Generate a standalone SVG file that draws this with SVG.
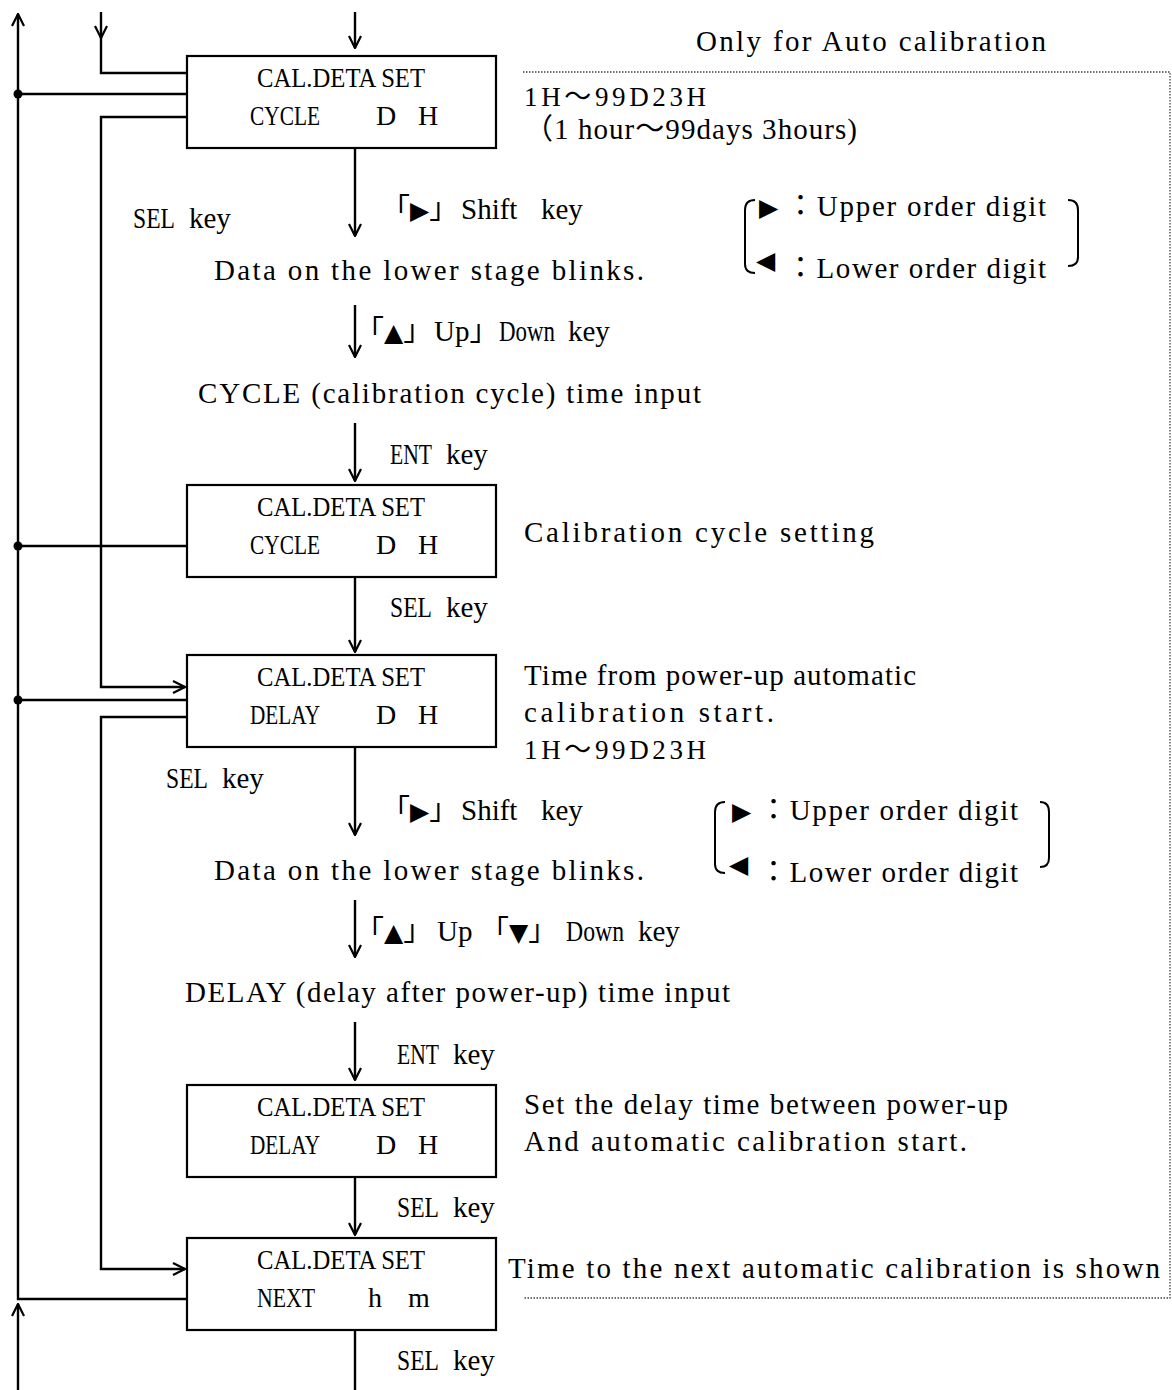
<svg xmlns="http://www.w3.org/2000/svg" width="1172" height="1390" viewBox="0 0 1172 1390">
<style>
.t{font-family:"Liberation Serif","Noto Sans CJK JP",serif;font-size:28px;fill:#000}
.l{font-family:"Liberation Serif","Noto Sans CJK JP",serif;font-size:29px;fill:#000}
.s{font-family:"Liberation Serif","Noto Sans CJK JP",serif;font-size:27px;fill:#000}
.tri{font-family:"DejaVu Sans","Noto Sans CJK JP",sans-serif;font-size:25px;fill:#000}
.box{fill:#fff;stroke:#000;stroke-width:2.2}
.ln{fill:none;stroke:#000;stroke-width:2.4}
.dot{fill:none;stroke:#444;stroke-width:1.3;stroke-dasharray:1.5 1.5}
.br{fill:none;stroke:#000;stroke-width:2}
</style>
<defs>
<marker id="arr" viewBox="0 0 14 14" refX="13" refY="7" markerWidth="14" markerHeight="14" orient="auto" markerUnits="userSpaceOnUse">
<path d="M1,1 L13,7 L1,13" fill="none" stroke="#000" stroke-width="2.2"/>
</marker>
</defs>
<rect width="1172" height="1390" fill="#fff"/>

<g id="connectors">
<path class="ln" d="M187,1299 H18 V14" marker-end="url(#arr)"/>
<path class="ln" d="M18,1390 V1304" marker-end="url(#arr)"/>
<path class="ln" d="M18,94 H187 M18,546 H187 M18,700 H187"/>
<circle cx="18" cy="94" r="4.5"/>
<circle cx="18" cy="546" r="4.5"/>
<circle cx="18" cy="700" r="4.5"/>
<path class="ln" d="M101,12 V38" marker-end="url(#arr)"/>
<path class="ln" d="M101,37 V73 H187"/>
<path class="ln" d="M187,117 H101 V687 H185" marker-end="url(#arr)"/>
<path class="ln" d="M187,717 H101 V1269 H185" marker-end="url(#arr)"/>
<path class="ln" d="M355,12 V48" marker-end="url(#arr)"/>
<path class="ln" d="M355,148 V236" marker-end="url(#arr)"/>
<path class="ln" d="M355,305 V357" marker-end="url(#arr)"/>
<path class="ln" d="M355,423 V481" marker-end="url(#arr)"/>
<path class="ln" d="M355,577 V652" marker-end="url(#arr)"/>
<path class="ln" d="M355,747 V835" marker-end="url(#arr)"/>
<path class="ln" d="M355,900 V957" marker-end="url(#arr)"/>
<path class="ln" d="M355,1022 V1080" marker-end="url(#arr)"/>
<path class="ln" d="M355,1177 V1235" marker-end="url(#arr)"/>
<path class="ln" d="M355,1330 V1390"/>
<path class="dot" d="M523,72 H1170 V1298 H523"/>
</g>

<g id="box1">
<rect class="box" x="187" y="56" width="309" height="92"/>
<text class="t" x="257" y="87" textLength="168" lengthAdjust="spacingAndGlyphs">CAL.DETA SET</text>
<text class="t" x="250" y="125" textLength="70" lengthAdjust="spacingAndGlyphs">CYCLE</text>
<text class="t" x="376" y="125">D</text>
<text class="t" x="418" y="125">H</text>
</g>
<g id="box2">
<rect class="box" x="187" y="485" width="309" height="92"/>
<text class="t" x="257" y="516" textLength="168" lengthAdjust="spacingAndGlyphs">CAL.DETA SET</text>
<text class="t" x="250" y="554" textLength="70" lengthAdjust="spacingAndGlyphs">CYCLE</text>
<text class="t" x="376" y="554">D</text>
<text class="t" x="418" y="554">H</text>
</g>
<g id="box3">
<rect class="box" x="187" y="655" width="309" height="92"/>
<text class="t" x="257" y="686" textLength="168" lengthAdjust="spacingAndGlyphs">CAL.DETA SET</text>
<text class="t" x="250" y="724" textLength="70" lengthAdjust="spacingAndGlyphs">DELAY</text>
<text class="t" x="376" y="724">D</text>
<text class="t" x="418" y="724">H</text>
</g>
<g id="box4">
<rect class="box" x="187" y="1085" width="309" height="92"/>
<text class="t" x="257" y="1116" textLength="168" lengthAdjust="spacingAndGlyphs">CAL.DETA SET</text>
<text class="t" x="250" y="1154" textLength="70" lengthAdjust="spacingAndGlyphs">DELAY</text>
<text class="t" x="376" y="1154">D</text>
<text class="t" x="418" y="1154">H</text>
</g>
<g id="box5">
<rect class="box" x="187" y="1238" width="309" height="92"/>
<text class="t" x="257" y="1269" textLength="168" lengthAdjust="spacingAndGlyphs">CAL.DETA SET</text>
<text class="t" x="257" y="1307" textLength="58" lengthAdjust="spacingAndGlyphs">NEXT</text>
<text class="t" x="368" y="1307">h</text>
<text class="t" x="408" y="1307">m</text>
</g>

<g id="key-labels">
<text class="l" y="228"><tspan x="133" textLength="42" lengthAdjust="spacingAndGlyphs">SEL</tspan><tspan x="189">key</tspan></text>
<text class="l" y="464"><tspan x="390" textLength="42" lengthAdjust="spacingAndGlyphs">ENT</tspan><tspan x="446">key</tspan></text>
<text class="l" y="617"><tspan x="390" textLength="42" lengthAdjust="spacingAndGlyphs">SEL</tspan><tspan x="446">key</tspan></text>
<text class="l" y="788"><tspan x="166" textLength="42" lengthAdjust="spacingAndGlyphs">SEL</tspan><tspan x="222">key</tspan></text>
<text class="l" y="1064"><tspan x="397" textLength="42" lengthAdjust="spacingAndGlyphs">ENT</tspan><tspan x="453">key</tspan></text>
<text class="l" y="1217"><tspan x="397" textLength="42" lengthAdjust="spacingAndGlyphs">SEL</tspan><tspan x="453">key</tspan></text>
<text class="l" y="1370"><tspan x="397" textLength="42" lengthAdjust="spacingAndGlyphs">SEL</tspan><tspan x="453">key</tspan></text>

<text class="l" y="219"><tspan x="381">「<tspan class="tri">▶</tspan>」</tspan><tspan x="461">Shift</tspan><tspan x="541">key</tspan></text>
<text class="l" y="820"><tspan x="381">「<tspan class="tri">▶</tspan>」</tspan><tspan x="461">Shift</tspan><tspan x="541">key</tspan></text>
<text class="l" y="341"><tspan x="355">「<tspan class="tri">▲</tspan>」</tspan><tspan x="434">Up」</tspan><tspan x="499" textLength="56" lengthAdjust="spacingAndGlyphs">Down</tspan><tspan x="568">key</tspan></text>
<text class="l" y="941"><tspan x="355">「<tspan class="tri">▲</tspan>」</tspan><tspan x="437">Up</tspan><tspan x="480">「<tspan class="tri">▼</tspan>」</tspan><tspan x="566" textLength="58" lengthAdjust="spacingAndGlyphs">Down</tspan><tspan x="638">key</tspan></text>
</g>

<g id="labels">
<text class="l" x="696" y="51" textLength="350" lengthAdjust="spacing">Only for Auto calibration</text>
<text class="s" x="524" y="106" textLength="182" lengthAdjust="spacing">1H～99D23H</text>
<text class="l" x="524" y="139" textLength="333" lengthAdjust="spacing">（1 hour～99days 3hours)</text>
<text class="l" x="214" y="280" textLength="430" lengthAdjust="spacing">Data on the lower stage blinks.</text>
<text class="l" x="198" y="403" textLength="503" lengthAdjust="spacing">CYCLE (calibration cycle) time input</text>
<text class="l" x="524" y="542" textLength="350" lengthAdjust="spacing">Calibration cycle setting</text>
<text class="l" x="524" y="685" textLength="392" lengthAdjust="spacing">Time from power-up automatic</text>
<text class="l" x="524" y="722" textLength="250" lengthAdjust="spacing">calibration start.</text>
<text class="s" x="524" y="759" textLength="182" lengthAdjust="spacing">1H～99D23H</text>
<text class="l" x="214" y="880" textLength="430" lengthAdjust="spacing">Data on the lower stage blinks.</text>
<text class="l" x="185" y="1002" textLength="545" lengthAdjust="spacing">DELAY (delay after power-up) time input</text>
<text class="l" x="524" y="1114" textLength="484" lengthAdjust="spacing">Set the delay time between power-up</text>
<text class="l" x="524" y="1151" textLength="443" lengthAdjust="spacing">And automatic calibration start.</text>
<text class="l" x="508" y="1278" textLength="652" lengthAdjust="spacing">Time to the next automatic calibration is shown</text>
</g>

<g id="digit-note-1">
<path class="br" d="M755,200 Q745,200 745,210 V264 Q745,273 755,273"/>
<path class="br" d="M1068,200 Q1078,200 1078,210 V257 Q1078,266 1068,266"/>
<text class="l" y="216"><tspan class="tri" x="759">▶</tspan><tspan x="786" textLength="260" lengthAdjust="spacing">：Upper order digit</tspan></text>
<text class="tri" x="756" y="269">◀</text>
<text class="l" x="786" y="278" textLength="260" lengthAdjust="spacing">：Lower order digit</text>
</g>
<g id="digit-note-2">
<path class="br" d="M725,802 Q715,802 715,812 V864 Q715,873 725,873"/>
<path class="br" d="M1040,802 Q1049,802 1049,812 V858 Q1049,867 1040,867"/>
<text class="l" y="820"><tspan class="tri" x="732">▶</tspan><tspan x="759" textLength="259" lengthAdjust="spacing">：Upper order digit</tspan></text>
<text class="tri" x="729" y="873">◀</text>
<text class="l" x="759" y="882" textLength="259" lengthAdjust="spacing">：Lower order digit</text>
</g>
</svg>
